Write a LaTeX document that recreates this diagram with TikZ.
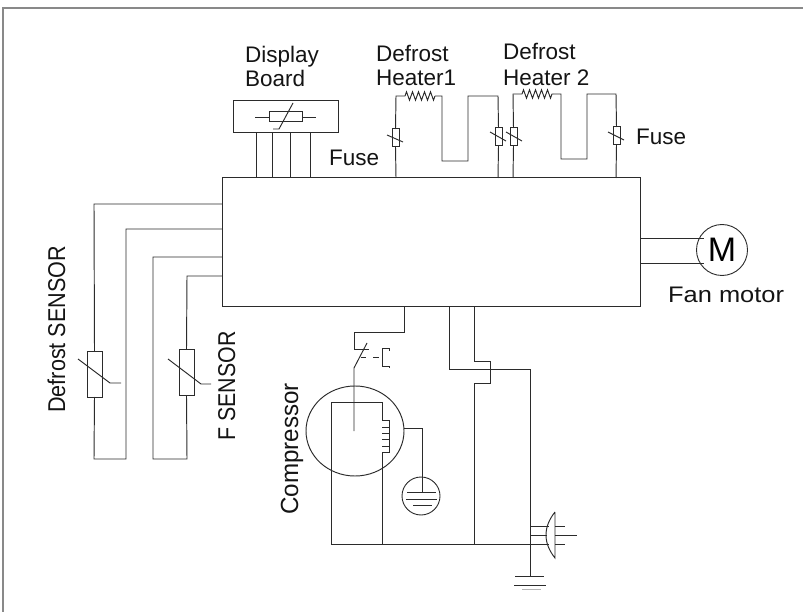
\documentclass[tikz,border=0pt]{standalone}
\usepackage{fontspec}
\usepackage{graphicx}
\setmainfont{Liberation Sans}
\usetikzlibrary{decorations.pathmorphing,calc}
\definecolor{ink}{gray}{0.17}
\definecolor{soft}{gray}{0.42}
\tikzset{
  x=1pt,y=-1pt,
  wire/.style={draw=ink,line width=0.95pt,line join=miter},
  frame/.style={draw=soft!80,line width=1.3pt},
  box/.style={draw=ink,line width=1pt,inner sep=0pt,outer sep=0pt,rectangle},
  fusebody/.style={box,minimum width=7pt,minimum height=18pt,fill=white},
  sensorbody/.style={box,minimum width=15pt,minimum height=46pt,fill=white},
  label/.style={text=black!92,font=\fontsize{22.5}{26}\selectfont,inner sep=0pt,anchor=base west},
  vlabel/.style={label,rotate=90},
  zig/.style={wire,decorate,decoration={zigzag,segment length=6pt,amplitude=4.2pt}},
}
\begin{document}
\begin{tikzpicture}
\useasboundingbox (0,0) rectangle (803,612);
% outer frame
\coordinate (fa) at (3,612); \coordinate (fb) at (3,8); \coordinate (fc) at (803,8);
\draw[frame] (fa) -- (fb) -- (fc);

% main board
\node[box,minimum width=418pt,minimum height=129pt,anchor=north west] (main) at (222,178) {};

% display board
\node[box,minimum width=105pt,minimum height=32pt,anchor=north west] (disp) at (233,101) {};
\foreach \x in {256,272,290,310}{ \draw[wire] (\x,133) -- (\x,178); }
\node[box,minimum width=33pt,minimum height=10pt] (dth) at (285.5,117) {};
\coordinate (dl) at (255,117); \coordinate (dr) at (316,117);
\draw[wire] (dl) -- (dth.west) (dth.east) -- (dr);
\coordinate (ds1) at (293,103); \coordinate (ds2) at (279,129); \coordinate (ds3) at (273,129);
\draw[wire] (ds1) -- (ds2) -- (ds3);

% heater 1
\node[fusebody] (f1) at (395.5,138) {};
\node[fusebody] (f2) at (498.5,137) {};
\coordinate (h1a) at (405,96); \coordinate (h1b) at (435,96);
\draw[wire] (f1.south) -- (396,178);
\draw[wire] (f1.north) -- (396,96) -- (h1a);
\draw[zig] (h1a) -- (h1b);
\draw[wire] (h1b) -- (442,96) -- (442,161) -- (468,161) -- (468,96) -- (498,96) -- (f2.north);
\draw[wire] (f2.south) -- (498,178);
\draw[wire] (387,135) -- (403,142);
\draw[wire] (490,132) -- (506,141);

% heater 2
\node[fusebody] (f3) at (513.5,137) {};
\node[fusebody] (f4) at (616.5,136) {};
\coordinate (h2a) at (522,94); \coordinate (h2b) at (553,94);
\draw[wire] (f3.south) -- (513,178);
\draw[wire] (f3.north) -- (513,94) -- (h2a);
\draw[zig] (h2a) -- (h2b);
\draw[wire] (h2b) -- (561,94) -- (561,159) -- (587,159) -- (587,94) -- (616,94) -- (f4.north);
\draw[wire] (f4.south) -- (616,178);
\draw[wire] (506,132) -- (522,141);
\draw[wire] (608,132) -- (624,140);

% sensors
\node[sensorbody] (s1) at (94.5,374) {};
\node[sensorbody] (s2) at (186.5,372.5) {};
\draw[wire] (222,204) -- (94,204) -- (s1.north);
\draw[wire] (s1.south) -- (94,459) -- (126,459) -- (126,229) -- (222,229);
\draw[wire] (222,257) -- (153,257) -- (153,459) -- (187,459) -- (s2.south);
\draw[wire] (s2.north) -- (187,276) -- (222,276);
\draw[wire] (78,359) -- (110,383) -- (121,383);
\draw[wire] (168,359) -- (201,384) -- (211,384);

% motor
\node[draw=ink,line width=0.9pt,circle,minimum size=51pt,inner sep=0pt,fill=white] (motor) at (722,250) {\fontsize{34}{36}\selectfont M};
\draw[wire] (640,238) -- (motor.north west |- 0,238);
\draw[wire] (640,263) -- (motor.south west |- 0,263);

% compressor
\coordinate (cc) at (355,431);
\draw[wire] (404,307) -- (404,332) -- (354,332) -- (354,349) -- (369,349);
\draw[wire] (367,343) -- (354,368) -- (354,431);
\draw[wire] (361,357) -- (366,357) (373,357) -- (379,357);
\draw[wire] (389,351) -- (389,348) -- (382,348) -- (382,366) -- (389,366) -- (389,368);
\draw[wire] (cc) ellipse (49 and 45);
\draw[wire] (382,420) -- (382,402) -- (331,402) -- (331,544);
\draw[wire] (382,420) -- (389,420) -- (389,452) -- (382,452) -- (382,544);
\foreach \y in {427,433,439,446}{ \draw[wire] (382,\y) -- (389,\y); }
\draw[wire] (404,428) -- (422,428) -- (422,492);
\node[draw=ink,line width=0.9pt,circle,minimum size=38pt,inner sep=0pt] (cg) at (421,496) {};
\draw[wire] (407,492) -- (436,492) (406,499) -- (437,499) (413,505) -- (432,505);

% supply wiring
\draw[wire] (331,544) -- (530,544);
\draw[wire] (449,307) -- (449,369) -- (530,369) -- (530,576);
\draw[wire] (474,307) -- (474,361) -- (490,361) -- (490,383) -- (474,383) -- (474,544);
\draw[wire] (515,576) -- (544,576) (514,585) -- (546,585);
\draw[wire,draw=soft!50] (522,589) -- (541,589);

% plug
\draw[wire] (530,526) -- (549,526) (530,535) -- (547,535) (530,544) -- (549,544);
\draw[wire] (555,526) -- (565,526) (555,535) -- (577,535) (555,544) -- (565,544);
\draw[wire] (555,512) -- (555,558) .. controls (543,543) and (543,527) .. (555,512);

% labels
\node[label] (tdisp) at (245,63) {Display};
\node[label] (tboard) at (245,87) {Board};
\node[label] (td1) at (376,62) {Defrost};
\node[label] (th1) at (376,86) {Heater1};
\node[label] (td2) at (503,60) {Defrost};
\node[label] (th2) at (503,86) {Heater 2};
\node[label] (tf1) at (329,166) {Fuse};
\node[label] (tf2) at (636,145) {Fuse};
\node[label] (tfan) at (668,302) {\scalebox{1.13}[1]{Fan motor}};
\node[vlabel] (tds) at (65,413) {\scalebox{.96}[1.08]{Defrost SENSOR}};
\node[vlabel] (tfs) at (235,441) {\scalebox{.95}[1.08]{F SENSOR}};
\node[vlabel] (tcomp) at (298,515) {\scalebox{1.075}[1.1]{Compressor}};
\end{tikzpicture}
\end{document}
